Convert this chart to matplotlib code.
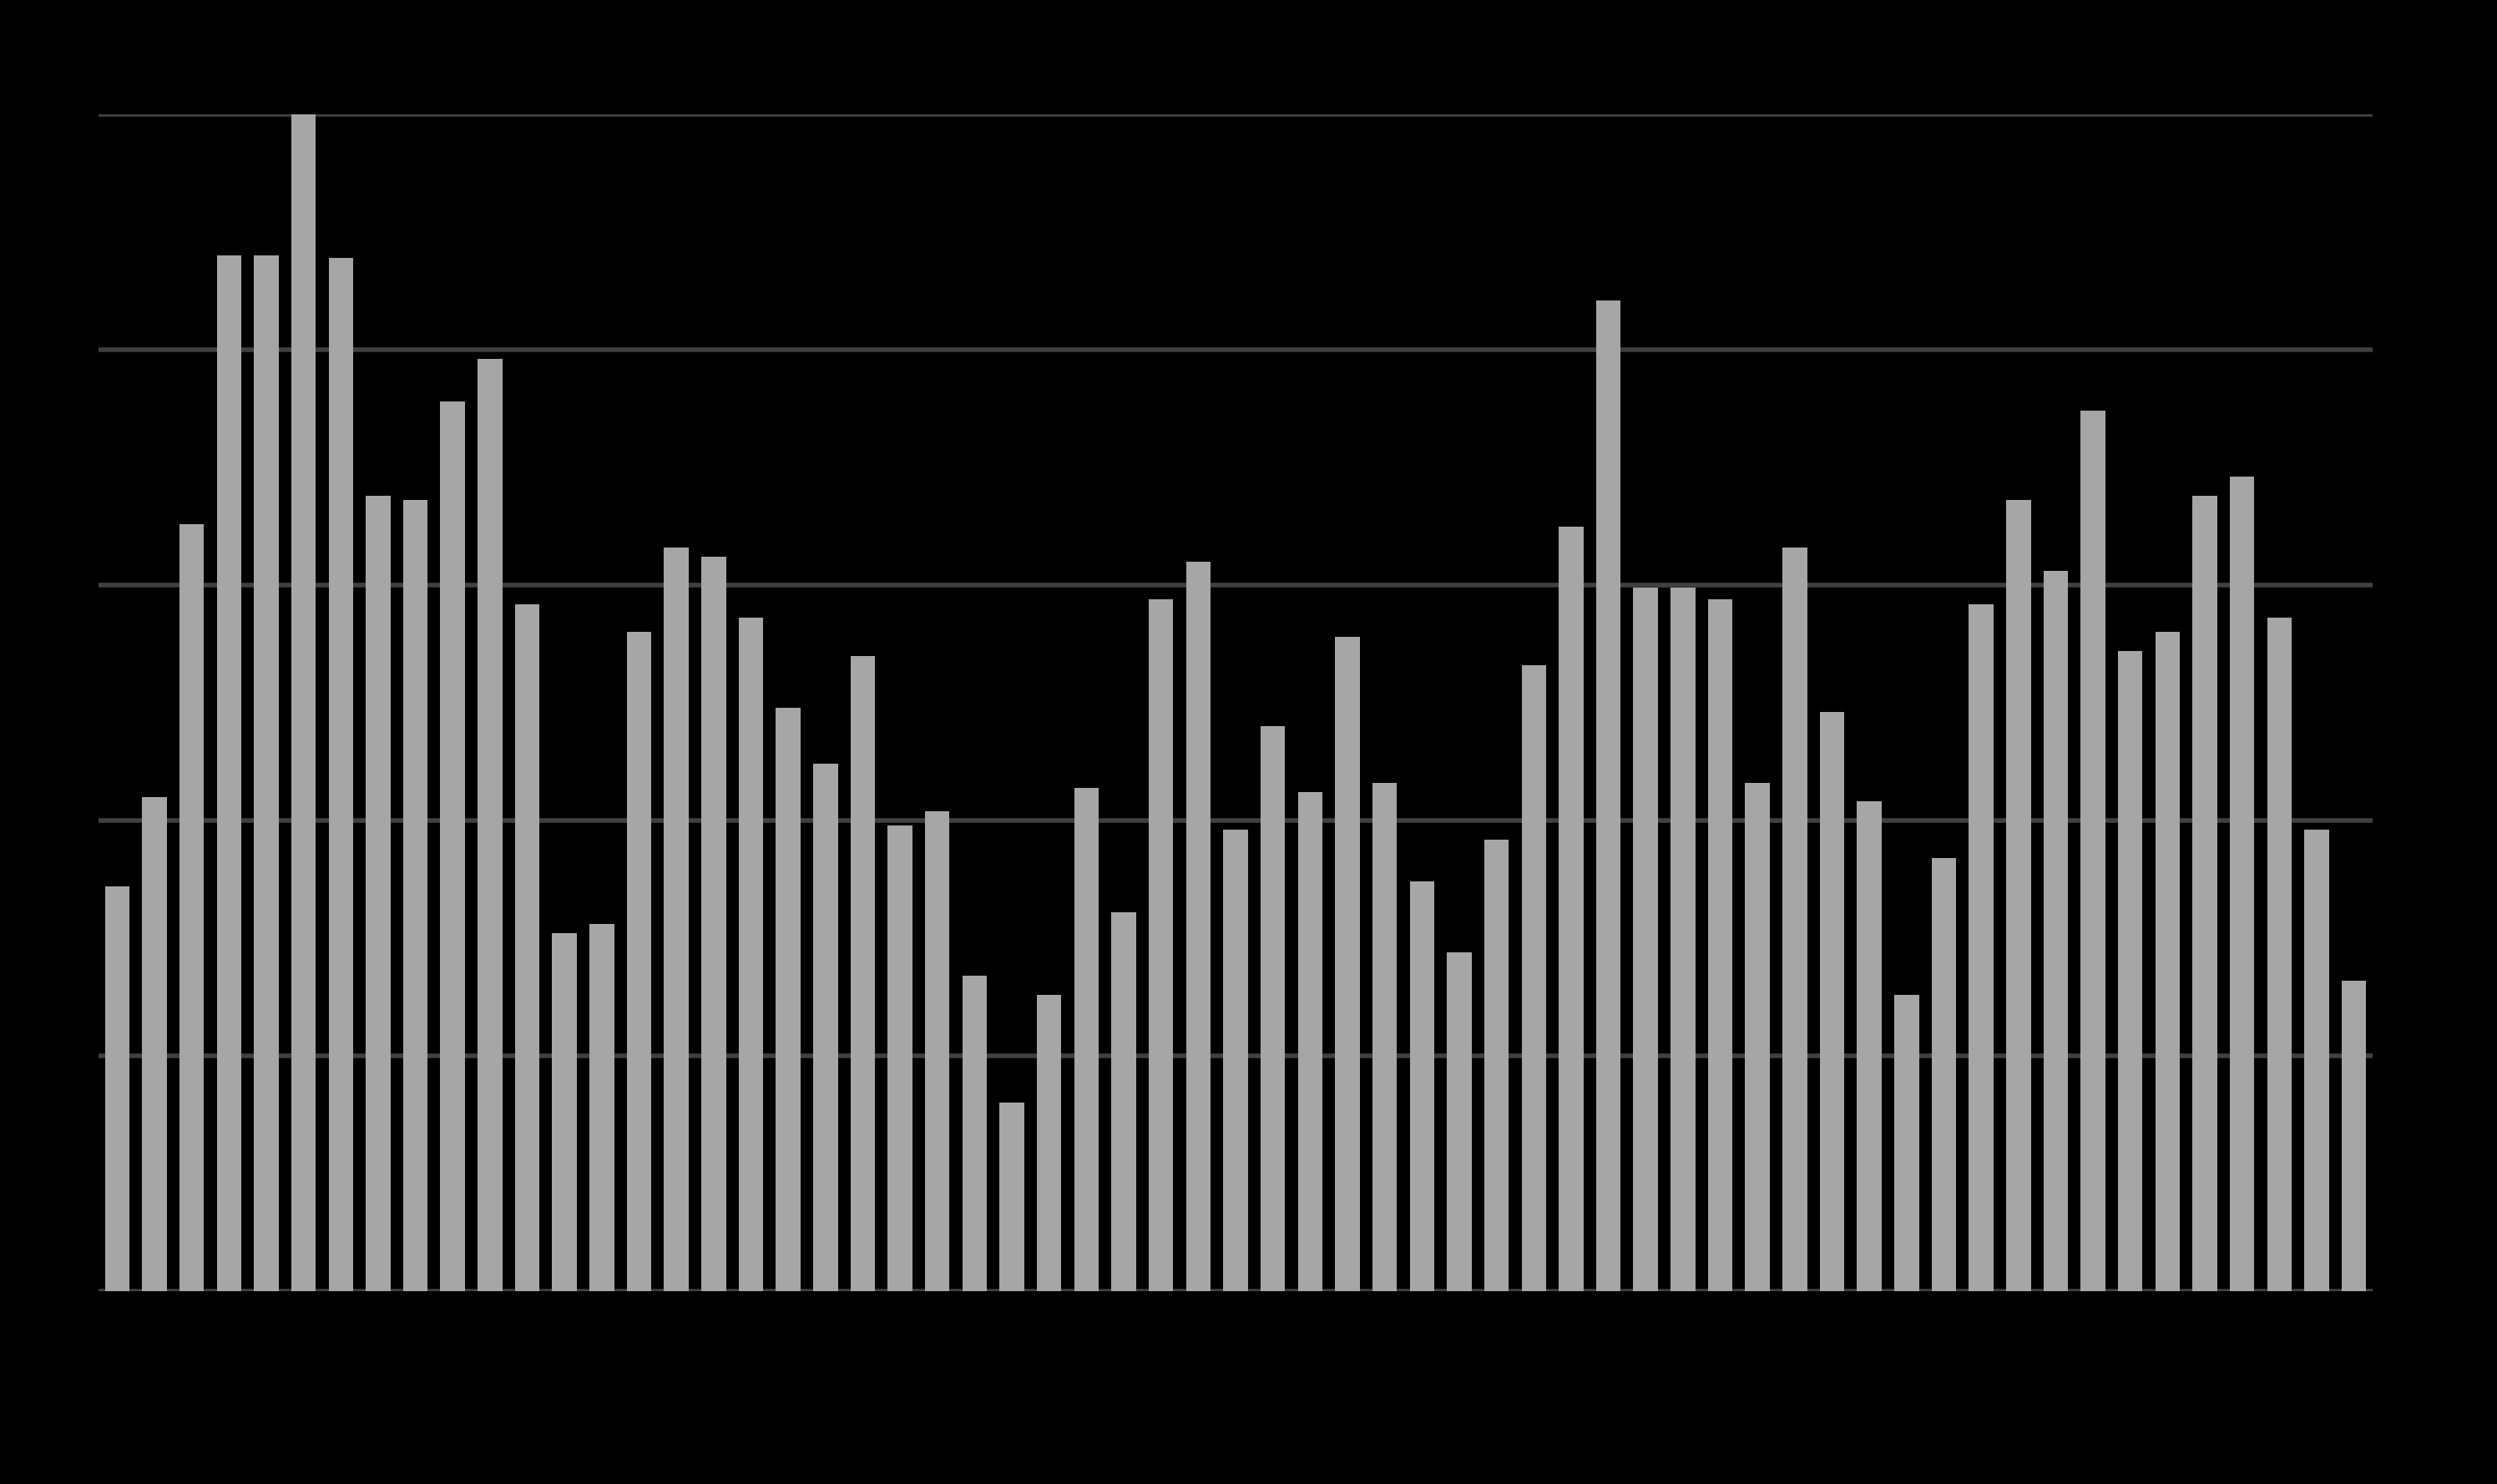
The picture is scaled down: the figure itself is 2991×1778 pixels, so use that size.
import matplotlib
matplotlib.use("Agg")
import matplotlib.pyplot as plt
import numpy as np

categories = list(range(1, 62))
values = [1.72, 2.10, 3.26, 4.40, 4.40, 5.00, 4.39, 3.38, 3.36, 3.78,
          3.96, 2.92, 1.52, 1.56, 2.80, 3.16, 3.12, 2.86, 2.48, 2.24,
          2.70, 1.98, 2.04, 1.34, 0.80, 1.26, 2.14, 1.61, 2.94, 3.10,
          1.96, 2.40, 2.12, 2.78, 2.16, 1.74, 1.44, 1.92, 2.66, 3.25,
          4.21, 2.99, 2.99, 2.94, 2.16, 3.16, 2.46, 2.08, 1.26, 1.84,
          2.92, 3.36, 3.06, 3.74, 2.72, 2.80, 3.38, 3.46, 2.86, 1.96,
          1.32]
y_ticks = [0, 1, 2, 3, 4, 5]

W, H = 2991, 1778
fig = plt.figure(figsize=(W / 100, H / 100), dpi=100, facecolor="black")
ax = fig.add_axes([118 / W, (H - 1547) / H, (2842 - 118) / W, (1547 - 137) / H])
ax.set_facecolor("black")

x = np.arange(len(categories))
ax.set_axisbelow(True)
ax.yaxis.grid(True, color="#404040", linewidth=4)
ax.bar(x, values, width=0.66, color="#a6a6a6", zorder=2)

ax.set_xlim(-0.5, len(categories) - 0.5)
ax.set_ylim(0, 5)
ax.set_yticks(y_ticks)
ax.set_xticks([])
ax.tick_params(axis="y", length=0, labelcolor="black")
for s in ax.spines.values():
    s.set_visible(False)

fig.savefig("out.png", dpi=100, facecolor="black")
